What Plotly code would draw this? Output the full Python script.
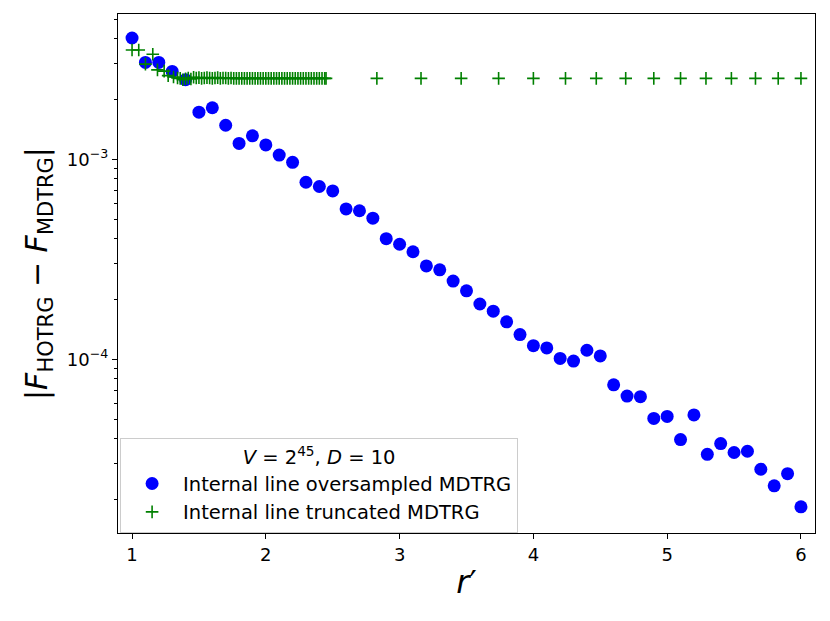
import plotly.graph_objects as go

# internal line oversampled MDTRG
r_over = [1.0, 1.1, 1.2, 1.3, 1.4, 1.5, 1.6, 1.7, 1.8, 1.9,
          2.0, 2.1, 2.2, 2.3, 2.4, 2.5, 2.6, 2.7, 2.8, 2.9,
          3.0, 3.1, 3.2, 3.3, 3.4, 3.5, 3.6, 3.7, 3.8, 3.9,
          4.0, 4.1, 4.2, 4.3, 4.4, 4.5, 4.6, 4.7, 4.8, 4.9,
          5.0, 5.1, 5.2, 5.3, 5.4, 5.5, 5.6, 5.7, 5.8, 5.9, 6.0]
err_over = [4.04e-3, 3.05e-3, 3.05e-3, 2.75e-3, 2.50e-3, 1.72e-3, 1.81e-3, 1.48e-3, 1.20e-3, 1.31e-3,
            1.18e-3, 1.05e-3, 9.66e-4, 7.68e-4, 7.31e-4, 6.95e-4, 5.65e-4, 5.53e-4, 5.08e-4, 4.01e-4,
            3.76e-4, 3.45e-4, 2.93e-4, 2.80e-4, 2.46e-4, 2.20e-4, 1.89e-4, 1.74e-4, 1.54e-4, 1.33e-4,
            1.17e-4, 1.14e-4, 1.01e-4, 9.80e-5, 1.11e-4, 1.04e-4, 7.45e-5, 6.55e-5, 6.50e-5, 5.06e-5,
            5.18e-5, 3.97e-5, 5.27e-5, 3.35e-5, 3.79e-5, 3.42e-5, 3.47e-5, 2.82e-5, 2.33e-5, 2.68e-5, 1.83e-5]

# internal line truncated MDTRG
r_trunc = [1.0, 1.05, 1.1, 1.155, 1.19, 1.24, 1.27, 1.31,
           1.34, 1.36, 1.38, 1.40, 1.42, 1.44, 1.46, 1.48, 1.50, 1.52, 1.54, 1.56,
           1.58, 1.60, 1.62, 1.64, 1.66, 1.68, 1.70, 1.72, 1.74, 1.76, 1.78, 1.80,
           1.82, 1.84, 1.86, 1.88, 1.90, 1.92, 1.94, 1.96, 1.98, 2.00, 2.02, 2.04,
           2.06, 2.08, 2.10, 2.12, 2.14, 2.16, 2.18, 2.20, 2.22, 2.24, 2.26, 2.28,
           2.30, 2.32, 2.34, 2.36, 2.38, 2.40, 2.42, 2.44, 2.45,
           2.83, 3.16, 3.46, 3.74, 4.0, 4.24, 4.47, 4.69, 4.90, 5.10,
           5.29, 5.48, 5.66, 5.83, 6.0]
err_trunc = [3.52e-3, 3.52e-3, 2.99e-3, 3.35e-3, 2.80e-3, 2.76e-3, 2.62e-3, 2.58e-3,
             2.55e-3, 2.54e-3, 2.50e-3, 2.53e-3, 2.55e-3, 2.52e-3, 2.57e-3, 2.55e-3, 2.56e-3, 2.54e-3, 2.55e-3, 2.56e-3,
             2.55e-3, 2.54e-3, 2.55e-3, 2.56e-3, 2.54e-3, 2.55e-3, 2.55e-3, 2.54e-3, 2.55e-3, 2.54e-3, 2.54e-3, 2.54e-3,
             2.54e-3, 2.54e-3, 2.54e-3, 2.54e-3, 2.54e-3, 2.54e-3, 2.54e-3, 2.54e-3, 2.54e-3, 2.54e-3, 2.54e-3, 2.54e-3,
             2.54e-3, 2.54e-3, 2.54e-3, 2.54e-3, 2.54e-3, 2.54e-3, 2.54e-3, 2.54e-3, 2.54e-3, 2.54e-3, 2.54e-3, 2.54e-3,
             2.54e-3, 2.54e-3, 2.54e-3, 2.54e-3, 2.54e-3, 2.54e-3, 2.54e-3, 2.54e-3, 2.54e-3,
             2.54e-3, 2.54e-3, 2.54e-3, 2.54e-3, 2.54e-3, 2.54e-3, 2.54e-3, 2.54e-3, 2.54e-3, 2.54e-3,
             2.54e-3, 2.54e-3, 2.54e-3, 2.54e-3, 2.54e-3]

xticks = [1, 2, 3, 4, 5, 6]
yticks = [1e-4, 1e-3]
yticklabels = ['10<sup>−4</sup>', '10<sup>−3</sup>']
yminor = [2e-5, 3e-5, 4e-5, 5e-5, 6e-5, 7e-5, 8e-5, 9e-5,
          2e-4, 3e-4, 4e-4, 5e-4, 6e-4, 7e-4, 8e-4, 9e-4,
          2e-3, 3e-3, 4e-3, 5e-3]

fnt = 'DejaVu Sans'

fig = go.Figure()
fig.add_trace(go.Scatter(x=r_over, y=err_over, mode='markers', name='Internal line oversampled MDTRG',
                         marker=dict(symbol='circle', size=13, color='#0000ff', line=dict(width=0))))
fig.add_trace(go.Scatter(x=r_trunc, y=err_trunc, mode='markers', name='Internal line truncated MDTRG',
                         marker=dict(symbol='cross-thin', size=9, color='#008000',
                                     line=dict(width=1.6, color='#008000'))))

# page body adds ~8px, margins are set so the axes box sits where the reference has it
fig.update_layout(
    width=830, height=621,
    margin=dict(l=110, r=23, t=6, b=96),
    paper_bgcolor='white', plot_bgcolor='white',
    font=dict(family=fnt, size=18, color='black'),
    legend=dict(x=0.003, y=0.0, xanchor='left', yanchor='bottom',
                bgcolor='rgba(255,255,255,0.8)', bordercolor='#cccccc', borderwidth=1,
                font=dict(size=19.5),
                title=dict(text='<i>V</i> = 2<sup>45</sup>, <i>D</i> = 10', side='top center',
                           font=dict(size=19.5)),
                itemwidth=52, tracegroupgap=0),
)
fig.update_xaxes(range=[0.895, 6.105], tickvals=xticks, ticks='outside', ticklen=5,
                 tickcolor='black', showline=True, linecolor='black', linewidth=1.3, mirror=True,
                 showgrid=False, zeroline=False, tickfont=dict(size=18),
                 title=dict(text='<i>r</i>′', font=dict(size=32), standoff=6))
fig.update_yaxes(type='log', range=[-4.8685, -2.2735], tickvals=yticks, ticktext=yticklabels,
                 ticks='outside', ticklen=5, tickcolor='black', showline=True, linecolor='black',
                 linewidth=1.3, mirror=True, showgrid=False, zeroline=False, tickfont=dict(size=18),
                 minor=dict(tickvals=yminor, ticks='outside', ticklen=3, tickcolor='black', showgrid=False),
                 title=dict(text='|<i>F</i><sub>HOTRG</sub> − <i>F</i><sub>MDTRG</sub>|',
                            font=dict(size=30), standoff=10))

fig.write_html('out.html')
